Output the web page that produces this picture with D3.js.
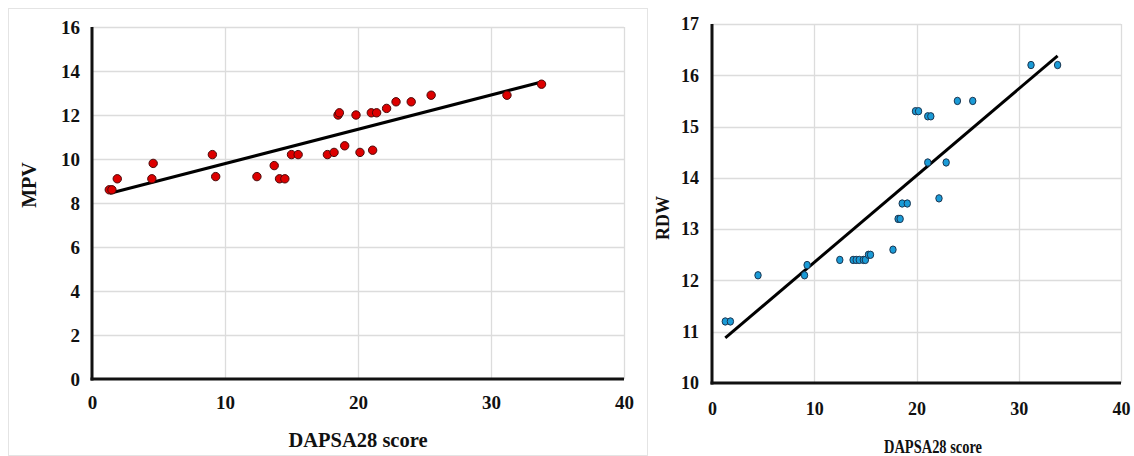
<!DOCTYPE html>
<html><head><meta charset="utf-8">
<script src="https://cdn.jsdelivr.net/npm/d3@7"></script>
<style>html,body{margin:0;padding:0;background:#fff;}svg{display:block;}</style>
</head><body>
<svg id="c" width="1134" height="456"></svg>
<script>
// ---- data ----
const mpvX = [1.3, 1.5, 1.9, 4.5, 4.6, 9.05, 9.3, 12.4, 13.7, 14.1, 14.5, 15.0, 15.5, 17.7, 18.2, 18.5, 18.6, 19.0, 19.85, 20.15, 21.0, 21.1, 21.4, 22.15, 22.86, 24.0, 25.5, 31.2, 33.8];
const mpvY = [8.6, 8.6, 9.1, 9.1, 9.8, 10.2, 9.2, 9.2, 9.7, 9.1, 9.1, 10.2, 10.2, 10.2, 10.3, 12.0, 12.1, 10.6, 12.0, 10.3, 12.1, 10.4, 12.1, 12.3, 12.6, 12.6, 12.9, 12.9, 13.4];
const mpvTrend = [[1.35, 8.44], [33.8, 13.5]];

const rdwX = [1.3, 1.8, 4.5, 9.05, 9.3, 12.5, 13.8, 14.1, 14.4, 14.8, 15.0, 15.3, 15.5, 17.7, 18.2, 18.4, 18.6, 19.1, 19.9, 20.2, 21.1, 21.4, 21.1, 22.2, 22.9, 24.0, 25.5, 31.2, 33.8];
const rdwY = [11.2, 11.2, 12.1, 12.1, 12.3, 12.4, 12.4, 12.4, 12.4, 12.4, 12.4, 12.5, 12.5, 12.6, 13.2, 13.2, 13.5, 13.5, 15.3, 15.3, 15.2, 15.2, 14.3, 13.6, 14.3, 15.5, 15.5, 16.2, 16.2];
const rdwTrend = [[1.3, 10.88], [33.8, 16.38]];

const xTicks = [0, 10, 20, 30, 40];
const mpvTicks = [0, 2, 4, 6, 8, 10, 12, 14, 16];
const rdwTicks = [10, 11, 12, 13, 14, 15, 16, 17];
const xTitle = "DAPSA28 score";

const svg = d3.select("#c");
const FONT = "'Liberation Serif','Times New Roman',serif";

// frame of left chart
svg.append("rect").attr("x", 8.5).attr("y", 8.5).attr("width", 639).attr("height", 447)
  .attr("fill", "none").attr("stroke", "#e4e4e4").attr("stroke-width", 1);

function panel(cfg) {
  const x = d3.scaleLinear().domain([0, 40]).range([cfg.x0, cfg.x1]);
  const y = d3.scaleLinear().domain(cfg.yDom).range([cfg.y0, cfg.y1]);
  const g = svg.append("g");

  // gridlines
  g.append("g").selectAll("line").data(cfg.yTicks.filter(d => d !== cfg.yDom[0])).join("line")
    .attr("x1", cfg.x0).attr("x2", cfg.x1)
    .attr("y1", d => Math.round(y(d)) + 0.5).attr("y2", d => Math.round(y(d)) + 0.5)
    .attr("stroke", "#dcdcdc").attr("stroke-width", 1.3);
  g.append("g").selectAll("line").data(xTicks.filter(d => d !== 0)).join("line")
    .attr("x1", d => Math.round(x(d)) + 0.5).attr("x2", d => Math.round(x(d)) + 0.5)
    .attr("y1", cfg.y1).attr("y2", cfg.y0)
    .attr("stroke", "#dcdcdc").attr("stroke-width", 1.3);

  // axes
  const xa = d3.axisBottom(x).tickValues(xTicks).tickSize(0).tickPadding(cfg.xPad).tickFormat(d3.format("d"));
  const ya = d3.axisLeft(y).tickValues(cfg.yTicks).tickSize(0).tickPadding(cfg.yPad).tickFormat(d3.format("d"));
  const gx = g.append("g").attr("transform", `translate(0,${cfg.y0})`).call(xa);
  const gy = g.append("g").attr("transform", `translate(${cfg.x0},0)`).call(ya);
  [gx, gy].forEach(a => {
    a.select(".domain").remove();
    a.selectAll("text").attr("font-family", FONT).attr("font-weight", "bold")
      .attr("font-size", cfg.tickSize).attr("fill", "#111");
  });
  // axis lines
  g.append("line").attr("x1", cfg.x0).attr("x2", cfg.x0).attr("y1", cfg.y1).attr("y2", cfg.y0 + 1.5)
    .attr("stroke", "#111").attr("stroke-width", 3);
  g.append("line").attr("x1", cfg.x0 - 1.5).attr("x2", cfg.x1).attr("y1", cfg.y0).attr("y2", cfg.y0)
    .attr("stroke", "#111").attr("stroke-width", 3);

  // titles
  g.append("text").attr("x", cfg.xtX).attr("y", cfg.xtY).attr("text-anchor", "middle")
    .attr("font-family", FONT).attr("font-weight", "bold").attr("font-size", cfg.titleSize)
    .attr("fill", "#111").attr("textLength", cfg.xtLen).attr("lengthAdjust", "spacingAndGlyphs")
    .text(xTitle);
  g.append("text").attr("transform", `translate(${cfg.ytX},${cfg.ytY}) rotate(-90)`)
    .attr("text-anchor", "middle").attr("dominant-baseline", "central")
    .attr("font-family", FONT).attr("font-weight", "bold").attr("font-size", cfg.titleSize)
    .attr("fill", "#111").text(cfg.yTitle);

  // trend line
  g.append("path").datum(cfg.trend)
    .attr("d", d3.line().x(d => x(d[0])).y(d => y(d[1])))
    .attr("stroke", "#000").attr("stroke-width", 3).attr("fill", "none");

  // points
  const pts = cfg.xs.map((v, i) => [v, cfg.ys[i]]);
  g.append("g").selectAll("ellipse").data(pts).join("ellipse")
    .attr("cx", d => x(d[0])).attr("cy", d => y(d[1]))
    .attr("rx", cfg.rx).attr("ry", cfg.ry)
    .attr("fill", cfg.fill).attr("stroke", cfg.stroke).attr("stroke-width", 1);
}

panel({
  x0: 92, x1: 624, y0: 379, y1: 27, yDom: [0, 16], yTicks: mpvTicks,
  xs: mpvX, ys: mpvY, trend: mpvTrend,
  xPad: 17, yPad: 12, tickSize: 19, titleSize: 20,
  xtX: 358, xtY: 447, xtLen: 139, ytX: 29, ytY: 185, yTitle: "MPV",
  rx: 4.2, ry: 4.2, fill: "#dd0000", stroke: "#4a0a0a"
});

panel({
  x0: 712, x1: 1121, y0: 383, y1: 24, yDom: [10, 17], yTicks: rdwTicks,
  xs: rdwX, ys: rdwY, trend: rdwTrend,
  xPad: 19, yPad: 13, tickSize: 18, titleSize: 18,
  xtX: 933, xtY: 453, xtLen: 98, ytX: 663, ytY: 218, yTitle: "RDW",
  rx: 3.2, ry: 3.7, fill: "#1a9bd7", stroke: "#1b3550"
});
</script>
</body></html>
